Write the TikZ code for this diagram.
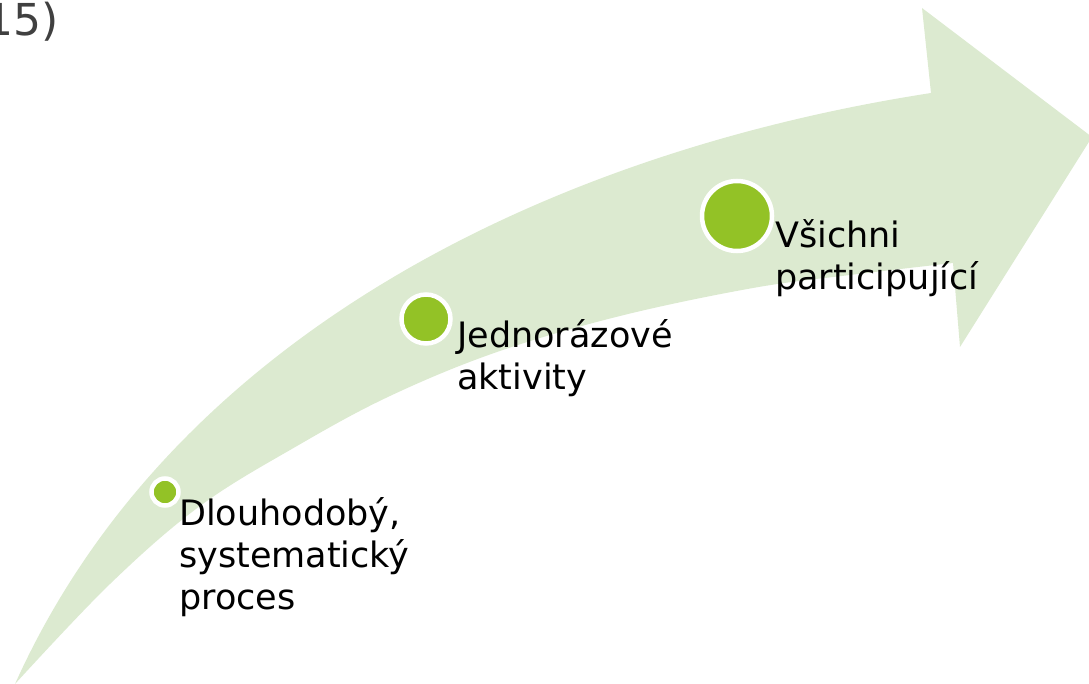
\documentclass[tikz,border=0pt]{standalone}
\usepackage{fontspec}
\setmainfont{DejaVu Sans}
\definecolor{arrowgreen}{RGB}{220,234,208}
\definecolor{dotgreen}{RGB}{147,194,38}
\definecolor{titlegray}{RGB}{64,64,64}

\tikzset{
	dot/.style={circle, fill=dotgreen, draw=white, line width=4.5pt, inner sep=0pt},
	itemtext/.style={anchor=north west, align=left, inner sep=0pt, text=black,
		font=\fontsize{35}{42}\selectfont}
}

\begin{document}
\begin{tikzpicture}[x=1pt,y=-1pt]

	\useasboundingbox (0,0) rectangle (1089,684);
	\clip (0,0) rectangle (1089,684);

	% curved arrow
	\fill[arrowgreen] (15,684) .. controls (172,335) and (550,152) .. (931,93)
		-- (922,8) -- (1092,137) -- (960,347) -- (953,263)
		-- plot[smooth, tension=0.6] coordinates {(953,263) (850,275) (753,288) (620,316)
			(497,352) (390,396) (297,446) (200,506) (110,584) (15,684)}
		-- cycle;

	\foreach \name/\x/\y/\d in {dotA/165/492/27, dotB/426/319/49, dotC/737/216/70}
	{
		\node[dot, minimum size=\d pt] (\name) at (\x,\y) {};
	}

	\node[itemtext] (txtA) at (179,497) {Dlouhodobý,\\systematický\\proces};
	\node[itemtext] (txtB) at (457,319) {Jednorázové\\aktivity};
	\node[itemtext] (txtC) at (775,219) {Všichni\\participující};

	\node[anchor=base west, inner sep=0pt, text=titlegray,
		font=\fontsize{44}{50}\selectfont] (year) at (-15,36) {15)};

\end{tikzpicture}
\end{document}
